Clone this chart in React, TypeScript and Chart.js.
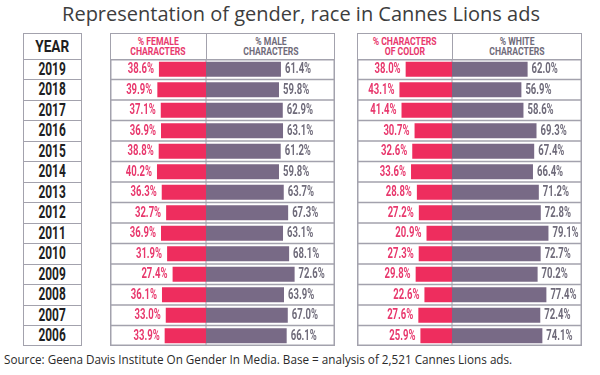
import React, { useEffect, useRef } from 'react';
import { Chart, registerables } from 'chart.js';
Chart.register(...registerables);

const years = ['2019', '2018', '2017', '2016', '2015', '2014', '2013', '2012', '2011', '2010', '2009', '2008', '2007', '2006'];
const femalePct = [38.6, 39.9, 37.1, 36.9, 38.8, 40.2, 36.3, 32.7, 36.9, 31.9, 27.4, 36.1, 33.0, 33.9];
const malePct = [61.4, 59.8, 62.9, 63.1, 61.2, 59.8, 63.7, 67.3, 63.1, 68.1, 72.6, 63.9, 67.0, 66.1];
const colorPct = [38.0, 43.1, 41.4, 30.7, 32.6, 33.6, 28.8, 27.2, 20.9, 27.3, 29.8, 22.6, 27.6, 25.9];
const whitePct = [62.0, 56.9, 58.6, 69.3, 67.4, 66.4, 71.2, 72.8, 79.1, 72.7, 70.2, 77.4, 72.4, 74.1];

const TITLE = 'Representation of gender, race in Cannes Lions ads';
const SOURCE = 'Source: Geena Davis Institute On Gender In Media. Base = analysis of 2,521 Cannes Lions ads.';

const PINK = '#ee2d5e';
const PINK_TEXT = '#e8386d';
const PURPLE = '#786a86';
const GRAY_TEXT = '#6f6b7a';
const GRID = '#a3a2ad';
const NARROW = 'Roboto, "Liberation Sans", sans-serif';
const SQUEEZE = 0.68;

const TOP = 33;
const HEAD_H = 26;
const BODY_H = 287;

function fmt(v: number) {
  return v.toFixed(1) + '%';
}

function squeezedText(ctx: CanvasRenderingContext2D, text: string, x: number, y: number, align: CanvasTextAlign) {
  ctx.save();
  ctx.translate(x, y);
  ctx.scale(SQUEEZE, 1);
  ctx.textAlign = align;
  ctx.fillText(text, 0, 0);
  ctx.restore();
}

function Squeeze(props: { children: React.ReactNode; s?: number }) {
  return (
    <span style={{ display: 'inline-block', transform: `scaleX(${props.s ?? SQUEEZE})`, transformOrigin: 'center', whiteSpace: 'nowrap' }}>
      {props.children}
    </span>
  );
}

function Panel(props: { left: number; width: number; min: number; max: number; neg: number[]; pos: number[]; negHead: string[]; posHead: string[]; split: number }) {
  const { left, width, min, max, neg, pos, negHead, posHead, split } = props;
  const ref = useRef<HTMLCanvasElement>(null);
  useEffect(() => {
    const gridPlugin = {
      id: 'grid',
      beforeDatasetsDraw(chart: any) {
        const { ctx, chartArea, scales } = chart;
        const y = scales.y;
        const x = scales.x;
        ctx.save();
        ctx.strokeStyle = GRID;
        ctx.lineWidth = 1.5;
        for (let i = 1; i < years.length; i++) {
          const yy = (y.getPixelForValue(i - 1) + y.getPixelForValue(i)) / 2;
          ctx.beginPath();
          ctx.moveTo(chartArea.left, yy);
          ctx.lineTo(chartArea.right, yy);
          ctx.stroke();
        }
        ctx.lineWidth = 1;
        const cx = x.getPixelForValue(0);
        ctx.beginPath();
        ctx.moveTo(cx, chartArea.top);
        ctx.lineTo(cx, chartArea.bottom);
        ctx.stroke();
        ctx.restore();
      },
      afterDraw(chart: any) {
        const { ctx, chartArea } = chart;
        ctx.save();
        ctx.strokeStyle = GRID;
        ctx.lineWidth = 1.5;
        ctx.strokeRect(chartArea.left + 0.75, chartArea.top + 0.75, chartArea.right - chartArea.left - 1.5, chartArea.bottom - chartArea.top - 1.5);
        ctx.restore();
      },
    };
    const labelPlugin = {
      id: 'labels',
      afterDatasetsDraw(chart: any) {
        const { ctx } = chart;
        ctx.save();
        ctx.font = 'bold 14px ' + NARROW;
        ctx.textBaseline = 'middle';
        chart.getDatasetMeta(0).data.forEach((el: any, i: number) => {
          const p = el.getProps(['x', 'base', 'y'], true);
          ctx.fillStyle = PINK_TEXT;
          squeezedText(ctx, fmt(neg[i]), Math.min(p.x, p.base) - 5, p.y + 0.5, 'right');
        });
        chart.getDatasetMeta(1).data.forEach((el: any, i: number) => {
          const p = el.getProps(['x', 'base', 'y'], true);
          ctx.fillStyle = GRAY_TEXT;
          squeezedText(ctx, fmt(pos[i]), Math.max(p.x, p.base) + 4, p.y + 0.5, 'left');
        });
        ctx.restore();
      },
    };
    const chart = new Chart(ref.current as HTMLCanvasElement, {
      type: 'bar',
      data: {
        labels: years,
        datasets: [
          { data: neg.map((v) => -v), backgroundColor: PINK, barPercentage: 0.73, categoryPercentage: 1 },
          { data: pos, backgroundColor: PURPLE, barPercentage: 0.73, categoryPercentage: 1 },
        ],
      },
      options: {
        indexAxis: 'y',
        responsive: false,
        animation: false,
        layout: { padding: 0 },
        scales: {
          x: { display: false, stacked: true, min, max },
          y: { display: false, stacked: true },
        },
        plugins: { legend: { display: false }, tooltip: { enabled: false } },
      },
      plugins: [gridPlugin, labelPlugin],
    } as any);
    return () => chart.destroy();
  }, []);

  const headStyle: React.CSSProperties = {
    position: 'absolute',
    top: 0,
    height: HEAD_H - 1.5,
    display: 'flex',
    flexDirection: 'column',
    justifyContent: 'center',
    alignItems: 'center',
    fontFamily: NARROW,
    fontWeight: 'bold',
    fontSize: 11.5,
    lineHeight: '10.5px',
    textAlign: 'center',
  };
  return (
    <>
      <div
        style={{
          position: 'absolute',
          left,
          top: TOP,
          width,
          height: HEAD_H + 1,
          border: `1.5px solid ${GRID}`,
          boxSizing: 'border-box',
        }}
      >
        <div style={{ ...headStyle, left: 0, width: split - 1.5, color: PINK_TEXT }}>
          {negHead.map((t) => (
            <Squeeze key={t} s={0.75}>{t}</Squeeze>
          ))}
        </div>
        <div style={{ position: 'absolute', left: split - 1.5, top: 0, width: 1.5, height: HEAD_H, background: GRID }} />
        <div style={{ ...headStyle, left: split, width: width - split - 1.5, color: GRAY_TEXT }}>
          {posHead.map((t) => (
            <Squeeze key={t} s={0.75}>{t}</Squeeze>
          ))}
        </div>
      </div>
      <canvas
        ref={ref}
        width={width}
        height={BODY_H}
        style={{ position: 'absolute', left, top: TOP + HEAD_H, width, height: BODY_H }}
      />
    </>
  );
}

function YearTable() {
  const rowH = BODY_H / years.length;
  return (
    <div
      style={{
        position: 'absolute',
        left: 23,
        top: TOP,
        width: 59,
        height: HEAD_H + BODY_H,
        border: `1.5px solid ${GRID}`,
        boxSizing: 'border-box',
        fontFamily: NARROW,
        fontWeight: 'bold',
        color: '#1e1e22',
      }}
    >
      <div style={{ position: 'absolute', left: 0, right: 0, top: 0, height: HEAD_H - 1.5, lineHeight: `${HEAD_H - 1.5}px`, textAlign: 'center', fontSize: 17 }}>
        <Squeeze s={0.8}>YEAR</Squeeze>
      </div>
      {years.map((yr, i) => (
        <div
          key={yr}
          style={{
            position: 'absolute',
            left: 0,
            right: 0,
            top: HEAD_H - 1.5 + i * rowH,
            height: rowH,
            borderTop: `1.5px solid ${GRID}`,
            boxSizing: 'border-box',
            lineHeight: `${rowH - 1.5}px`,
            textAlign: 'center',
            fontSize: 17.5,
          }}
        >
          <Squeeze s={0.68}>{yr}</Squeeze>
        </div>
      ))}
    </div>
  );
}

export default function App() {
  return (
    <div style={{ position: 'fixed', left: 0, top: 0, width: 600, height: 375, background: '#fff', overflow: 'hidden' }}>
      <div
        style={{
          position: 'absolute',
          left: 0,
          top: 0,
          width: 602,
          height: 28,
          lineHeight: '28px',
          textAlign: 'center',
          fontFamily: '"Open Sans", sans-serif',
          fontSize: 20,
          color: '#3d3d3d',
        }}
      >
        {TITLE}
      </div>
      <YearTable />
      <Panel left={110} width={225} split={96} min={-78.7} max={105.7} neg={femalePct} pos={malePct} negHead={['% FEMALE', 'CHARACTERS']} posHead={['% MALE', 'CHARACTERS']} />
      <Panel left={357} width={225} split={95} min={-77.9} max={106.6} neg={colorPct} pos={whitePct} negHead={['% CHARACTERS', 'OF COLOR']} posHead={['% WHITE', 'CHARACTERS']} />
      <div
        style={{
          position: 'absolute',
          left: 4,
          top: 350,
          height: 18,
          lineHeight: '18px',
          whiteSpace: 'nowrap',
          fontFamily: '"Open Sans", sans-serif',
          fontSize: 11.7,
          color: '#2a2a2a',
        }}
      >
        {SOURCE}
      </div>
    </div>
  );
}
